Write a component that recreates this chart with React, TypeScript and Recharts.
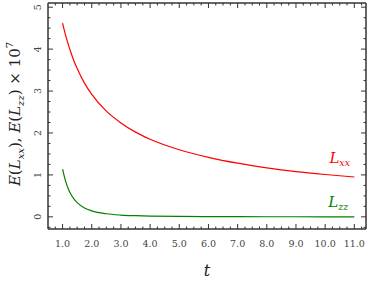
import { LineChart, Line, XAxis, YAxis, ReferenceDot } from 'recharts'

// sample times and the two curves (values are x 10^7)
const tValues = [1.0, 1.1, 1.2, 1.3, 1.4, 1.5, 1.75, 2.0, 2.5, 3.0, 3.5, 4.0, 5.0, 6.0, 7.0, 8.0, 9.0, 10.0, 11.0]
const lxxValues = [4.62, 4.34, 4.1, 3.89, 3.7, 3.54, 3.19, 2.92, 2.52, 2.24, 2.02, 1.85, 1.6, 1.42, 1.28, 1.17, 1.08, 1.01, 0.95]
const lzzValues = [1.14, 0.857, 0.66, 0.52, 0.415, 0.338, 0.213, 0.143, 0.073, 0.042, 0.027, 0.018, 0.009, 0.005, 0.003, 0.002, 0.0016, 0.0011, 0.0009]

const xMajor = [1, 2, 3, 4, 5, 6, 7, 8, 9, 10, 11]
const yMajor = [0, 1, 2, 3, 4, 5]

const xDomain: [number, number] = [0.5, 11.4]
const yDomain: [number, number] = [-0.29, 5.1]

const withMinor = (major: number[], lo: number, hi: number) => {
  const out: number[] = []
  for (let m = major[0] - 1; m <= major[major.length - 1]; m++) {
    for (const f of [0, 0.25, 0.5, 0.75]) {
      const v = m + f
      if (v > lo && v < hi) out.push(v)
    }
  }
  return out
}

const xTicks = withMinor(xMajor, xDomain[0], xDomain[1])
const yTicks = withMinor(yMajor, yDomain[0], yDomain[1])

const data = tValues.map((t, i) => ({ t, lxx: lxxValues[i], lzz: lzzValues[i] }))

const RED = '#ff0000'
const GREEN = '#008000'
const FRAME = '#333'
const FONT = "'DejaVu Serif', serif"

// chart box
const W = 374
const H = 281
const margin = { top: 3, right: 8, bottom: 22, left: 0 }
const xAxisH = 30
const yAxisW = 48
const plot = {
  left: margin.left + yAxisW,
  top: margin.top,
  right: W - margin.right,
  bottom: H - margin.bottom - xAxisH,
}

const isMajor = (v: number) => Number.isInteger(v)
const tickLen = (v: number) => (isMajor(v) ? 5 : 2.5)

const BottomTick = ({ x, y, payload }: any) => (
  <g>
    <line x1={x} x2={x} y1={y} y2={y - tickLen(payload.value)} stroke={FRAME} />
    {isMajor(payload.value) && (
      <text x={x} y={y + 18} textAnchor="middle" fill="#444" fontFamily={FONT} fontSize={9.5}>
        {payload.value.toFixed(1)}
      </text>
    )}
  </g>
)

const LeftTick = ({ x, y, payload }: any) => (
  <g>
    <line x1={x} x2={x + tickLen(payload.value)} y1={y} y2={y} stroke={FRAME} />
    {isMajor(payload.value) && (
      <text
        x={x - 10}
        y={y}
        textAnchor="middle"
        dominantBaseline="central"
        fill="#444"
        fontFamily={FONT}
        fontSize={9.5}
        transform={`rotate(-90, ${x - 10}, ${y})`}
      >
        {payload.value}
      </text>
    )}
  </g>
)

const CurveLabel = ({ cx, cy, name, color }: any) => (
  <text x={cx} y={cy} textAnchor="middle" fill={color} fontFamily={FONT} fontSize={15} fontStyle="italic">
    L
    <tspan fontSize={9.5} dy={3}>
      {name}
    </tspan>
  </text>
)

// top and right sides of the box, with inward ticks mirrored from the axes
const FrameTopRight = () => {
  const sx = (v: number) => plot.left + ((v - xDomain[0]) / (xDomain[1] - xDomain[0])) * (plot.right - plot.left)
  const sy = (v: number) => plot.bottom - ((v - yDomain[0]) / (yDomain[1] - yDomain[0])) * (plot.bottom - plot.top)
  return (
    <svg width={W} height={H} style={{ position: 'absolute', left: 0, top: 0, pointerEvents: 'none' }}>
      <line x1={plot.left} x2={plot.right} y1={plot.top} y2={plot.top} stroke={FRAME} strokeWidth={1.5} />
      <line x1={plot.right} x2={plot.right} y1={plot.top} y2={plot.bottom} stroke={FRAME} strokeWidth={1.5} />
      {xTicks.map((v) => (
        <line key={`tx${v}`} x1={sx(v)} x2={sx(v)} y1={plot.top} y2={plot.top + tickLen(v)} stroke={FRAME} />
      ))}
      {yTicks.map((v) => (
        <line key={`ry${v}`} x1={plot.right} x2={plot.right - tickLen(v)} y1={sy(v)} y2={sy(v)} stroke={FRAME} />
      ))}
      <text x={(plot.left + plot.right) / 2} y={276} textAnchor="middle" fill="#222" fontFamily={FONT} fontSize={16} fontStyle="italic">
        t
      </text>
      <text x={20} y={114} textAnchor="middle" fill="#222" fontFamily={FONT} fontSize={15} transform="rotate(-90, 20, 114)">
        <tspan fontStyle="italic">E</tspan>(<tspan fontStyle="italic">L</tspan>
        <tspan fontStyle="italic" fontSize={10} dy={4}>xx</tspan>
        <tspan dy={-4}>), </tspan>
        <tspan fontStyle="italic">E</tspan>(<tspan fontStyle="italic">L</tspan>
        <tspan fontStyle="italic" fontSize={10} dy={4}>zz</tspan>
        <tspan dy={-4}>) × 10</tspan>
        <tspan fontSize={10} dy={-7}>7</tspan>
      </text>
    </svg>
  )
}

const axisLine = { stroke: FRAME, strokeWidth: 1.5 }

export default function App() {
  return (
    <div style={{ position: 'absolute', left: 0, top: 0, width: W, height: H, background: '#fff' }}>
      <LineChart width={W} height={H} data={data} margin={margin}>
        <XAxis
          dataKey="t"
          type="number"
          domain={xDomain}
          allowDataOverflow
          ticks={xTicks}
          interval={0}
          tickSize={0}
          tickMargin={0}
          height={xAxisH}
          tick={<BottomTick />}
          axisLine={axisLine}
          tickLine={false}
        />
        <YAxis
          type="number"
          domain={yDomain}
          allowDataOverflow
          ticks={yTicks}
          interval={0}
          tickSize={0}
          tickMargin={0}
          width={yAxisW}
          tick={<LeftTick />}
          axisLine={axisLine}
          tickLine={false}
        />
        <Line type="monotone" dataKey="lxx" stroke={RED} strokeWidth={1.2} dot={false} isAnimationActive={false} />
        <Line type="monotone" dataKey="lzz" stroke={GREEN} strokeWidth={1.2} dot={false} isAnimationActive={false} />
        <ReferenceDot x={10.5} y={1.29} r={0} shape={(p: any) => <CurveLabel {...p} name="xx" color={RED} />} />
        <ReferenceDot x={10.45} y={0.24} r={0} shape={(p: any) => <CurveLabel {...p} name="zz" color={GREEN} />} />
      </LineChart>
      <FrameTopRight />
    </div>
  )
}
